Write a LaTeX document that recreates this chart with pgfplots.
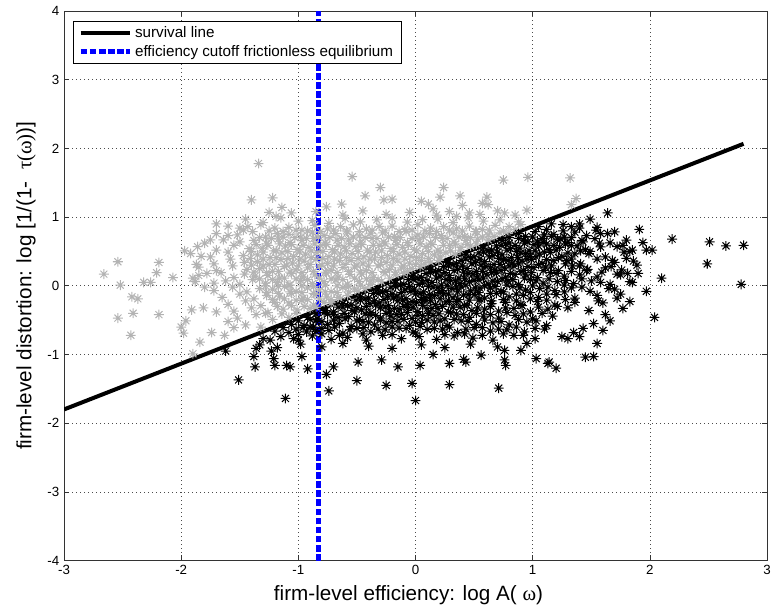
\documentclass[border=0pt]{standalone}
\usepackage{pgfplots}
\pgfplotsset{compat=1.18}
\usepackage{fontspec}
\setmainfont{Liberation Sans}
\newfontfamily\grk{Liberation Serif}
\definecolor{ptgray}{RGB}{179,179,179}
\definecolor{cutblue}{RGB}{0,0,255}

% MATLAB-style '*' marker (plus and cross)
\pgfdeclareplotmark{mstar}{%
  \pgfpathmoveto{\pgfqpoint{-\pgfplotmarksize}{0pt}}\pgfpathlineto{\pgfqpoint{\pgfplotmarksize}{0pt}}%
  \pgfpathmoveto{\pgfqpoint{0pt}{-\pgfplotmarksize}}\pgfpathlineto{\pgfqpoint{0pt}{\pgfplotmarksize}}%
  \pgfpathmoveto{\pgfqpoint{-.707\pgfplotmarksize}{-.707\pgfplotmarksize}}\pgfpathlineto{\pgfqpoint{.707\pgfplotmarksize}{.707\pgfplotmarksize}}%
  \pgfpathmoveto{\pgfqpoint{-.707\pgfplotmarksize}{.707\pgfplotmarksize}}\pgfpathlineto{\pgfqpoint{.707\pgfplotmarksize}{-.707\pgfplotmarksize}}%
  \pgfusepathqstroke}

\begin{document}
\begin{tikzpicture}
\begin{axis}[
    scale only axis,
    width=527pt, height=412pt,
    xmin=-3, xmax=3, ymin=-4, ymax=4,
    xtick={-3,-2,-1,0,1,2,3},
    xticklabels={-3,-2,-1,0,1,2,3},
    ytick={-4,-3,-2,-1,0,1,2,3,4},
    yticklabels={-4,-3,-2,-1,0,1,2,3,4},
    tick pos=both,
    tick align=inside,
    major tick length=4pt,
    tick style={black!80, line width=0.5pt},
    axis line style={black!80, line width=0.5pt},
    grid=major,
    major grid style={black!70, line width=0.5pt, dash pattern=on 0.6pt off 2.4pt},
    tick label style={font=\fontsize{10}{12}\selectfont},
    xlabel={firm-level efficiency: log A( {\grk ω})},
    ylabel={firm-level distortion: log [1/(1-\ \ {\grk τ(ω)})]},
    label style={font=\fontsize{15.5}{18}\selectfont},
    xlabel style={at={(axis description cs:0.49,-0.063)}, anchor=center},
    ylabel style={at={(axis description cs:-0.054,0.5)}, anchor=center},
    legend style={at={(axis description cs:0,1)}, anchor=north west,
        xshift=6.5pt, yshift=-7.5pt, draw=black, line width=0.5pt,
        font=\fontsize{11.4}{13.5}\selectfont, inner xsep=4pt, inner ysep=2pt, row sep=0pt,
        legend cell align=left},
    legend image code/.code={\draw[#1] (0pt,0pt) -- (37pt,0pt);},
]
% firms above the survival line (exit)
\addplot[only marks, mark=mstar, mark size=3.7pt, ptgray, line width=0.75pt, forget plot] coordinates {
(-1.34,1.78)(-1.40,1.25)(-1.22,1.28)(-1.14,1.14)(-1.19,1.01)(-1.06,1.06)(-1.43,0.86)(-0.54,1.59)(-0.30,1.43)(0.24,1.43)
(0.75,1.54)(0.96,1.58)(1.32,1.57)(-0.43,1.31)(-0.27,1.25)(-0.20,1.26)(0.05,1.23)(0.11,1.19)(0.21,1.29)(0.38,1.31)
(0.40,1.17)(0.61,1.29)(0.62,1.18)(0.57,1.20)(-0.63,1.19)(-0.76,1.15)(1.37,1.27)(1.33,1.18)(0.46,1.06)(0.29,1.08)
(0.76,1.06)(0.85,1.03)(0.95,1.10)(0.35,1.01)(0.18,1.03)
(-2.54,0.35)(-2.66,0.17)(-2.52,0.01)(-2.19,0.34)(-2.21,0.19)(-2.07,0.12)(-2.32,0.05)(-2.26,0.05)(-2.42,-0.16)(-2.37,-0.19)
(-2.41,-0.40)(-2.54,-0.47)(-2.19,-0.42)(-2.43,-0.72)(-1.97,0.51)(-1.91,-0.35)(-1.96,-0.51)(-2.00,-0.60)(-1.98,-0.69)(-1.84,-0.82)
(-1.90,-0.99)(-1.74,-0.68)(-1.63,-0.72)(-1.55,-0.61)(-1.81,-0.32)(-1.70,-0.38)(-1.87,0.31)(-1.83,0.43)(-1.70,0.90)(-1.70,0.76)
(-1.75,0.67)(-1.64,0.67)(-1.60,0.73)(-1.50,0.84)(-1.90,0.11)(-1.88,0.06)(-1.85,0.15)(-1.78,0.18)(-1.80,-0.02)
(-1.25,1.07)(-0.85,1.08)(-0.62,1.03)(-0.45,1.09)(-0.25,1.04)(-0.05,1.07)(0.15,1.12)(0.55,1.04)(0.70,1.09)
(-1.45,0.97)(-1.30,0.92)(-1.15,0.99)(-1.00,0.94)(-0.88,0.95)(-0.74,0.91)(-0.60,0.98)(-0.47,0.93)(-0.33,0.96)(-0.20,0.985)
(-0.07,0.925)(0.06,0.965)(0.19,0.97)(0.32,0.92)(0.45,0.99)(0.58,0.94)(0.72,0.96)(0.88,0.93)
(-1.60,0.87)(-1.47,0.81)(-1.32,0.89)(-1.20,0.84)(-1.08,0.85)(-0.97,0.81)(-0.86,0.88)(-0.75,0.83)(-0.64,0.86)(-0.53,0.885)
(-0.42,0.825)(-0.31,0.865)(-0.20,0.87)(-0.09,0.82)(0.02,0.89)(0.13,0.84)(0.24,0.86)(0.35,0.83)(0.46,0.87)(0.57,0.82)
(0.68,0.88)(0.80,0.86)(0.90,0.89)
(-1.52,0.74)(-1.39,0.79)(-1.28,0.71)(-1.18,0.76)(-1.08,0.75)(-0.98,0.71)(-0.88,0.78)(-0.78,0.73)(-0.68,0.76)(-0.58,0.785)
(-0.48,0.725)(-0.38,0.765)(-0.28,0.77)(-0.18,0.72)(-0.08,0.79)(0.02,0.74)(0.12,0.76)(0.22,0.73)(0.32,0.77)(0.42,0.72)
(0.52,0.79)(0.62,0.74)(0.72,0.77)(0.79,0.76)
(-1.80,0.62)(-1.50,0.64)(-1.38,0.66)(-1.27,0.61)(-1.17,0.68)(-1.07,0.63)(-0.97,0.66)(-0.87,0.685)(-0.77,0.625)(-0.67,0.665)
(-0.57,0.67)(-0.47,0.62)(-0.37,0.69)(-0.27,0.64)(-0.17,0.66)(-0.07,0.63)(0.03,0.67)(0.13,0.62)(0.23,0.69)(0.33,0.64)
(0.43,0.66)(0.53,0.68)(0.62,0.67)
(-1.86,0.57)(-1.70,0.52)(-1.55,0.59)(-1.42,0.54)(-1.31,0.55)(-1.21,0.51)(-1.11,0.58)(-1.01,0.53)(-0.91,0.56)(-0.81,0.585)
(-0.71,0.525)(-0.61,0.565)(-0.51,0.57)(-0.41,0.52)(-0.31,0.59)(-0.21,0.54)(-0.11,0.56)(-0.01,0.53)(0.09,0.57)(0.19,0.52)
(0.29,0.59)(0.39,0.56)(0.47,0.58)
(-1.92,0.47)(-1.75,0.42)(-1.60,0.49)(-1.47,0.44)(-1.35,0.45)(-1.24,0.41)(-1.14,0.48)(-1.04,0.43)(-0.94,0.46)(-0.84,0.485)
(-0.74,0.425)(-0.64,0.465)(-0.54,0.47)(-0.44,0.42)(-0.34,0.49)(-0.24,0.44)(-0.14,0.46)(-0.04,0.43)(0.06,0.47)(0.16,0.45)
(0.26,0.48)(0.34,0.46)
(-1.72,0.32)(-1.58,0.39)(-1.46,0.34)(-1.35,0.35)(-1.25,0.31)(-1.15,0.38)(-1.05,0.33)(-0.95,0.36)(-0.85,0.385)(-0.75,0.325)
(-0.65,0.365)(-0.55,0.37)(-0.45,0.32)(-0.35,0.39)(-0.25,0.34)(-0.15,0.36)(-0.05,0.33)(0.05,0.37)(0.13,0.34)(0.20,0.37)
(-1.85,0.27)(-1.70,0.22)(-1.56,0.29)(-1.44,0.24)(-1.33,0.25)(-1.22,0.21)(-1.12,0.28)(-1.02,0.23)(-0.92,0.26)(-0.82,0.285)
(-0.72,0.225)(-0.62,0.265)(-0.52,0.27)(-0.42,0.22)(-0.32,0.29)(-0.22,0.24)(-0.12,0.26)(-0.03,0.25)(0.04,0.28)
(-1.66,0.19)(-1.55,0.12)(-1.46,0.17)(-1.37,0.14)(-1.26,0.15)(-1.16,0.11)(-1.06,0.18)(-0.96,0.13)(-0.86,0.16)(-0.76,0.185)
(-0.66,0.125)(-0.56,0.165)(-0.46,0.17)(-0.36,0.12)(-0.26,0.19)(-0.17,0.16)(-0.10,0.18)
(-1.72,0.04)(-1.62,0.07)(-1.50,0.02)(-1.39,0.09)(-1.28,0.04)(-1.18,0.05)(-1.08,0.01)(-0.98,0.08)(-0.88,0.03)(-0.78,0.06)
(-0.68,0.085)(-0.58,0.025)(-0.48,0.065)(-0.38,0.07)(-0.29,0.06)
(-1.72,-0.07)(-1.56,-0.02)(-1.44,-0.09)(-1.33,-0.04)(-1.22,-0.05)(-1.12,-0.01)(-1.02,-0.08)(-0.92,-0.03)(-0.82,-0.06)(-0.72,-0.085)
(-0.62,-0.025)(-0.52,-0.045)(-0.43,-0.04)
(-1.65,-0.17)(-1.50,-0.12)(-1.38,-0.19)(-1.27,-0.14)(-1.16,-0.15)(-1.06,-0.11)(-0.96,-0.18)(-0.86,-0.13)(-0.76,-0.16)(-0.66,-0.17)
(-0.58,-0.14)
(-1.60,-0.27)(-1.45,-0.22)(-1.32,-0.29)(-1.20,-0.24)(-1.08,-0.25)(-0.97,-0.21)(-0.87,-0.28)(-0.78,-0.24)(-0.72,-0.25)
(-1.55,-0.37)(-1.40,-0.32)(-1.26,-0.39)(-1.13,-0.34)(-1.01,-0.35)(-0.90,-0.33)
(-1.52,-0.47)(-1.36,-0.42)(-1.22,-0.49)(-1.08,-0.46)
(-1.45,-0.57)(-1.32,-0.60)(-1.60,-0.52)
(-1.25,0.80)(-1.13,0.79)(-1.02,0.81)(-0.92,0.80)(-0.81,0.79)(-0.70,0.81)(-0.59,0.80)(-0.48,0.79)(-0.37,0.81)(-0.26,0.80)
(-0.14,0.79)(-0.03,0.81)(0.08,0.80)(0.18,0.79)(0.29,0.81)(0.40,0.80)(0.51,0.79)(0.63,0.81)(0.75,0.80)(0.85,0.82)
(-1.33,0.70)(-1.23,0.69)(-1.13,0.71)(-1.03,0.70)(-0.93,0.69)(-0.83,0.71)(-0.73,0.70)(-0.63,0.69)(-0.53,0.71)(-0.43,0.70)
(-0.33,0.69)(-0.23,0.71)(-0.13,0.70)(-0.03,0.69)(0.07,0.71)(0.17,0.70)(0.27,0.69)(0.37,0.71)(0.47,0.70)(0.57,0.71)(0.67,0.72)
(-1.36,0.60)(-1.26,0.59)(-1.16,0.61)(-1.06,0.60)(-0.96,0.59)(-0.86,0.61)(-0.76,0.60)(-0.66,0.59)(-0.56,0.61)(-0.46,0.60)
(-0.36,0.59)(-0.26,0.61)(-0.16,0.60)(-0.06,0.59)(0.04,0.61)(0.14,0.60)(0.24,0.59)(0.34,0.61)(0.44,0.60)(0.52,0.61)
(-1.40,0.50)(-1.30,0.49)(-1.19,0.51)(-1.09,0.50)(-0.99,0.49)(-0.89,0.51)(-0.79,0.50)(-0.69,0.49)(-0.59,0.51)(-0.49,0.50)
(-0.39,0.49)(-0.29,0.51)(-0.19,0.50)(-0.09,0.49)(0.01,0.51)(0.11,0.50)(0.21,0.49)(0.30,0.51)(0.38,0.52)
(-1.41,0.40)(-1.30,0.39)(-1.19,0.41)(-1.09,0.40)(-0.99,0.39)(-0.89,0.41)(-0.79,0.40)(-0.69,0.39)(-0.59,0.41)(-0.49,0.40)
(-0.39,0.39)(-0.29,0.41)(-0.19,0.40)(-0.09,0.39)(0.01,0.41)(0.11,0.40)(0.21,0.42)
(-1.40,0.30)(-1.30,0.29)(-1.20,0.31)(-1.10,0.30)(-1.00,0.29)(-0.90,0.31)(-0.80,0.30)(-0.70,0.29)(-0.60,0.31)(-0.50,0.30)
(-0.40,0.29)(-0.30,0.31)(-0.20,0.30)(-0.10,0.29)(0.00,0.31)(0.08,0.32)
(-1.38,0.20)(-1.27,0.19)(-1.17,0.21)(-1.07,0.20)(-0.97,0.19)(-0.87,0.21)(-0.77,0.20)(-0.67,0.19)(-0.57,0.21)(-0.47,0.20)
(-0.37,0.19)(-0.27,0.21)(-0.17,0.20)(-0.07,0.21)
(-1.33,0.10)(-1.22,0.09)(-1.12,0.11)(-1.02,0.10)(-0.92,0.09)(-0.82,0.11)(-0.72,0.10)(-0.62,0.09)(-0.52,0.11)(-0.42,0.10)
(-0.32,0.09)(-0.22,0.11)
(-1.28,0.00)(-1.17,-0.01)(-1.07,0.01)(-0.97,0.00)(-0.87,-0.01)(-0.77,0.01)(-0.67,0.00)(-0.57,-0.01)(-0.47,0.01)(-0.38,0.02)
(-1.27,-0.10)(-1.17,-0.11)(-1.07,-0.09)(-0.97,-0.10)(-0.87,-0.11)(-0.77,-0.09)(-0.67,-0.10)(-0.57,-0.09)(-0.49,-0.08)
(-1.22,-0.20)(-1.12,-0.19)(-1.02,-0.21)(-0.92,-0.20)(-0.82,-0.19)(-0.72,-0.20)(-0.64,-0.19)
(-1.18,-0.30)(-1.06,-0.29)(-0.95,-0.30)(-0.85,-0.31)
(-1.28,-0.40)(-1.14,-0.41)(-1.02,-0.40)
};
% firms below the survival line (survivors)
\addplot[only marks, mark=mstar, mark size=3.7pt, black, line width=0.75pt, forget plot] coordinates {
(1.05,0.86)(1.12,0.82)(1.26,0.89)(1.40,0.84)(1.55,0.85)
(0.88,0.76)(0.94,0.72)(1.02,0.79)(1.10,0.74)(1.18,0.75)(1.27,0.71)(1.36,0.78)(1.46,0.73)(1.58,0.76)(1.70,0.785)
(0.74,0.66)(0.80,0.62)(0.88,0.69)(0.96,0.64)(1.04,0.65)(1.12,0.61)(1.21,0.68)(1.30,0.63)(1.42,0.66)(1.53,0.685)
(1.66,0.625)(1.80,0.665)
(0.58,0.55)(0.65,0.52)(0.73,0.59)(0.81,0.54)(0.89,0.55)(0.97,0.51)(1.05,0.58)(1.14,0.53)(1.23,0.56)(1.33,0.585)
(1.45,0.525)(1.58,0.565)(1.72,0.57)(1.85,0.52)
(0.43,0.45)(0.50,0.42)(0.58,0.49)(0.66,0.44)(0.74,0.45)(0.82,0.41)(0.90,0.48)(0.98,0.43)(1.06,0.46)(1.15,0.485)
(1.25,0.425)(1.36,0.465)(1.48,0.47)(1.62,0.42)(1.78,0.49)
(0.28,0.34)(0.35,0.32)(0.43,0.39)(0.51,0.34)(0.59,0.35)(0.67,0.31)(0.75,0.38)(0.83,0.33)(0.91,0.36)(0.99,0.385)
(1.08,0.325)(1.18,0.365)(1.29,0.37)(1.41,0.32)(1.55,0.39)(1.70,0.34)(1.86,0.36)
(0.13,0.24)(0.20,0.22)(0.28,0.29)(0.36,0.24)(0.44,0.25)(0.52,0.21)(0.60,0.28)(0.68,0.23)(0.76,0.26)(0.84,0.285)
(0.92,0.225)(1.01,0.265)(1.11,0.27)(1.22,0.22)(1.34,0.29)(1.47,0.24)(1.62,0.26)(1.76,0.23)
(-0.02,0.14)(0.05,0.12)(0.13,0.19)(0.21,0.14)(0.29,0.15)(0.37,0.11)(0.45,0.18)(0.53,0.13)(0.61,0.16)(0.69,0.185)
(0.77,0.125)(0.85,0.165)(0.94,0.17)(1.04,0.12)(1.15,0.19)(1.27,0.14)(1.40,0.16)(1.55,0.13)(1.72,0.17)
(-0.17,0.04)(-0.10,0.02)(-0.02,0.09)(0.06,0.04)(0.14,0.05)(0.22,0.01)(0.30,0.08)(0.38,0.03)(0.46,0.06)(0.54,0.085)
(0.62,0.025)(0.70,0.065)(0.79,0.07)(0.88,0.02)(0.98,0.09)(1.09,0.04)(1.21,0.06)(1.35,0.03)(1.50,0.07)(1.66,0.02)(1.83,0.06)
(-0.32,-0.06)(-0.25,-0.08)(-0.17,-0.01)(-0.09,-0.06)(-0.01,-0.05)(0.07,-0.09)(0.15,-0.02)(0.23,-0.07)(0.31,-0.04)(0.39,-0.015)
(0.47,-0.075)(0.55,-0.035)(0.64,-0.03)(0.73,-0.08)(0.83,-0.01)(0.94,-0.06)(1.06,-0.04)(1.19,-0.07)(1.33,-0.03)(1.49,-0.08)(1.65,-0.04)
(-0.47,-0.16)(-0.40,-0.18)(-0.32,-0.11)(-0.24,-0.16)(-0.16,-0.15)(-0.08,-0.19)(0.00,-0.12)(0.08,-0.17)(0.16,-0.14)(0.24,-0.115)
(0.32,-0.175)(0.41,-0.135)(0.50,-0.13)(0.59,-0.18)(0.69,-0.11)(0.80,-0.16)(0.92,-0.14)(1.05,-0.17)(1.20,-0.13)(1.36,-0.18)
(1.55,-0.14)(1.75,-0.12)
(-0.62,-0.26)(-0.55,-0.28)(-0.47,-0.21)(-0.39,-0.26)(-0.31,-0.25)(-0.23,-0.29)(-0.15,-0.22)(-0.07,-0.27)(0.01,-0.24)(0.09,-0.215)
(0.17,-0.275)(0.26,-0.235)(0.35,-0.23)(0.44,-0.28)(0.54,-0.21)(0.65,-0.26)(0.77,-0.24)(0.90,-0.27)(1.04,-0.23)(1.19,-0.28)
(1.36,-0.24)(1.56,-0.22)
(-0.77,-0.36)(-0.70,-0.38)(-0.62,-0.31)(-0.54,-0.36)(-0.46,-0.35)(-0.38,-0.39)(-0.30,-0.32)(-0.22,-0.37)(-0.14,-0.34)(-0.06,-0.315)
(0.02,-0.375)(0.10,-0.335)(0.19,-0.33)(0.28,-0.38)(0.38,-0.31)(0.48,-0.36)(0.59,-0.34)(0.71,-0.37)(0.84,-0.33)(0.98,-0.38)
(1.13,-0.34)(1.30,-0.32)(1.48,-0.36)
(-0.92,-0.46)(-0.84,-0.48)(-0.75,-0.41)(-0.66,-0.46)(-0.57,-0.45)(-0.48,-0.49)(-0.39,-0.42)(-0.30,-0.47)(-0.21,-0.44)(-0.12,-0.415)
(-0.03,-0.475)(0.06,-0.435)(0.15,-0.43)(0.25,-0.48)(0.35,-0.41)(0.46,-0.46)(0.58,-0.44)(0.71,-0.47)(0.85,-0.43)(1.00,-0.48)(1.17,-0.44)
(-1.06,-0.56)(-0.95,-0.58)(-0.85,-0.51)(-0.75,-0.56)(-0.65,-0.55)(-0.55,-0.59)(-0.45,-0.52)(-0.35,-0.57)(-0.25,-0.54)(-0.15,-0.515)
(-0.05,-0.575)(0.05,-0.535)(0.16,-0.53)(0.27,-0.58)(0.39,-0.51)(0.52,-0.56)(0.66,-0.54)(0.80,-0.57)(0.95,-0.53)(1.12,-0.58)
(-1.20,-0.66)(-1.08,-0.68)(-0.96,-0.61)(-0.85,-0.66)(-0.74,-0.65)(-0.62,-0.69)(-0.50,-0.62)(-0.38,-0.67)(-0.26,-0.64)(-0.14,-0.615)
(-0.02,-0.675)(0.10,-0.635)(0.23,-0.63)(0.36,-0.68)(0.50,-0.61)(0.64,-0.66)(0.78,-0.64)(0.93,-0.67)(1.10,-0.63)
(-1.30,-0.77)(-1.15,-0.74)(-1.00,-0.79)(-0.88,-0.73)(-0.72,-0.78)(-0.58,-0.75)(-0.42,-0.79)(-0.28,-0.72)(-0.12,-0.77)(0.03,-0.74)
(0.18,-0.78)(0.33,-0.73)(0.49,-0.76)(0.66,-0.79)(0.84,-0.72)(1.02,-0.77)(1.25,-0.74)(1.40,-0.74)
(-1.18,-0.90)(-0.98,-0.85)(-0.80,-0.89)(-0.62,-0.84)(-0.40,-0.88)(-0.20,-0.91)(0.05,-0.86)(0.25,-0.90)(0.47,-0.85)(0.70,-0.89)
(0.95,-0.84)
(-1.51,-1.37)(-1.11,-1.64)(-1.38,-1.03)(-1.37,-1.18)(-1.62,-0.95)(-1.23,-0.95)(-1.10,-1.16)(-1.07,-1.18)(-0.92,-1.21)(-1.20,-1.16)
(-1.33,-0.86)(-1.24,-0.79)(-1.04,-0.77)(-0.93,-0.67)(-0.87,-0.60)
(-0.74,-1.53)(-0.50,-1.38)(-0.25,-1.45)(-0.03,-1.42)(0.00,-1.67)(0.29,-1.44)(0.71,-1.49)(-0.15,-1.18)(0.29,-1.13)(0.77,-1.16)
(1.03,-1.06)(1.13,-1.13)(1.20,-1.20)(0.15,-1.00)(0.43,-1.11)(0.56,-1.01)(0.04,-1.16)
(-0.76,-1.29)(-0.70,-1.18)(-0.49,-1.11)(-0.29,-1.08)(-1.36,-0.91)(-1.21,-1.06)(-0.97,-1.03)
(1.14,-1.11)(1.45,-1.04)(1.52,-1.03)(1.55,-0.84)(1.30,-0.77)(1.66,-0.51)(1.83,-0.23)(1.77,-0.33)
(0.76,-1.08)(0.90,-0.94)(0.76,-0.94)(0.41,-1.07)
(2.19,0.68)(2.51,0.64)(2.65,0.58)(2.80,0.59)(2.49,0.32)(2.78,0.02)(2.10,0.11)(2.04,-0.46)(1.97,-0.08)(1.91,0.82)
(1.94,0.63)(1.97,0.52)(2.02,0.52)(1.89,0.30)(1.81,0.18)(1.75,0.16)(1.83,0.50)(1.77,0.59)
(1.16,0.90)(1.49,0.97)(1.64,1.06)(1.64,0.76)(1.26,0.80)(1.33,0.86)(1.40,0.90)(1.54,0.81)(1.43,0.64)(1.57,0.62)
(1.68,0.37)(1.49,0.50)(1.59,0.20)(1.46,0.22)
(1.60,-0.25)(1.70,-0.05)(1.85,0.05)(1.62,-0.42)(1.72,-0.18)(1.58,0.05)(1.67,0.28)(1.80,0.40)(1.90,0.18)(1.52,-0.55)
(1.43,-0.62)(1.35,-0.68)(1.60,-0.65)
(0.80,0.70)(0.92,0.67)(1.00,0.71)(1.08,0.69)(1.16,0.72)(1.24,0.68)(1.33,0.70)
(0.69,0.58)(0.77,0.61)(0.85,0.59)(0.93,0.62)(1.01,0.60)(1.09,0.63)(1.18,0.59)(1.28,0.61)(1.38,0.58)
(0.54,0.48)(0.62,0.51)(0.70,0.49)(0.78,0.52)(0.86,0.50)(0.94,0.47)(1.02,0.51)(1.10,0.49)(1.20,0.52)(1.30,0.48)(1.41,0.51)
(0.39,0.37)(0.47,0.41)(0.55,0.39)(0.63,0.42)(0.71,0.40)(0.79,0.37)(0.87,0.41)(0.95,0.39)(1.03,0.42)(1.12,0.38)(1.22,0.41)(1.33,0.39)
(0.24,0.28)(0.32,0.31)(0.40,0.29)(0.48,0.32)(0.56,0.30)(0.64,0.27)(0.72,0.31)(0.80,0.29)(0.88,0.32)(0.96,0.28)(1.05,0.31)(1.16,0.29)(1.28,0.32)(1.40,0.29)
(0.09,0.18)(0.17,0.21)(0.25,0.19)(0.33,0.22)(0.41,0.20)(0.49,0.17)(0.57,0.21)(0.65,0.19)(0.73,0.22)(0.81,0.18)(0.90,0.21)(0.99,0.19)(1.09,0.22)(1.20,0.18)(1.33,0.21)
(-0.06,0.09)(0.02,0.11)(0.10,0.08)(0.18,0.11)(0.26,0.09)(0.34,0.07)(0.42,0.10)(0.50,0.08)(0.58,0.11)(0.66,0.07)(0.74,0.10)(0.83,0.09)(0.93,0.11)(1.03,0.07)(1.14,0.10)(1.28,0.08)(1.42,0.10)
(-0.21,-0.02)(-0.13,0.01)(-0.05,-0.01)(0.03,0.02)(0.11,-0.01)(0.19,-0.03)(0.27,0.00)(0.35,-0.02)(0.43,0.01)(0.51,-0.03)(0.59,0.00)(0.68,-0.01)(0.78,0.01)(0.89,-0.03)(1.00,0.00)(1.13,-0.02)(1.27,0.01)(1.42,-0.02)
(-0.36,-0.11)(-0.28,-0.09)(-0.20,-0.12)(-0.12,-0.10)(-0.04,-0.08)(0.04,-0.11)(0.12,-0.13)(0.20,-0.10)(0.28,-0.12)(0.36,-0.09)(0.45,-0.13)(0.54,-0.10)(0.64,-0.11)(0.75,-0.09)(0.86,-0.12)(0.98,-0.10)(1.12,-0.12)(1.27,-0.09)
(-0.51,-0.21)(-0.43,-0.19)(-0.35,-0.22)(-0.27,-0.20)(-0.19,-0.18)(-0.11,-0.21)(-0.03,-0.23)(0.05,-0.20)(0.13,-0.22)(0.21,-0.19)(0.29,-0.23)(0.37,-0.20)(0.46,-0.21)(0.55,-0.19)(0.65,-0.22)(0.75,-0.20)(0.86,-0.22)(0.98,-0.19)(1.12,-0.21)(1.28,-0.20)
(-0.66,-0.31)(-0.58,-0.29)(-0.50,-0.32)(-0.42,-0.30)(-0.34,-0.28)(-0.26,-0.31)(-0.18,-0.33)(-0.10,-0.30)(-0.02,-0.32)(0.06,-0.29)(0.14,-0.33)(0.23,-0.30)(0.32,-0.31)(0.42,-0.29)(0.53,-0.32)(0.64,-0.30)(0.77,-0.32)(0.91,-0.29)(1.05,-0.31)(1.21,-0.30)
(-0.85,-0.41)(-0.78,-0.39)(-0.70,-0.42)(-0.61,-0.40)(-0.52,-0.38)(-0.43,-0.41)(-0.34,-0.43)(-0.25,-0.40)(-0.16,-0.42)(-0.07,-0.39)(0.02,-0.43)(0.11,-0.40)(0.20,-0.41)(0.30,-0.39)(0.41,-0.42)(0.52,-0.40)(0.64,-0.42)(0.78,-0.39)(0.92,-0.41)(1.08,-0.40)
(-1.00,-0.51)(-0.90,-0.49)(-0.80,-0.52)(-0.70,-0.50)(-0.60,-0.48)(-0.50,-0.51)(-0.40,-0.53)(-0.30,-0.50)(-0.20,-0.52)(-0.10,-0.49)(0.00,-0.53)(0.10,-0.50)(0.21,-0.51)(0.33,-0.49)(0.45,-0.52)(0.59,-0.50)(0.73,-0.52)(0.88,-0.49)(1.03,-0.51)
(-1.13,-0.61)(-1.02,-0.63)(-0.90,-0.60)(-0.80,-0.62)(-0.69,-0.60)(-0.56,-0.64)(-0.44,-0.61)(-0.32,-0.63)(-0.20,-0.60)(-0.08,-0.62)(0.04,-0.59)(0.16,-0.62)(0.29,-0.60)(0.43,-0.63)(0.57,-0.61)(0.71,-0.63)(0.86,-0.60)(1.02,-0.62)
(-1.00,-0.71)(-0.80,-0.70)(-0.65,-0.72)(-0.45,-0.70)(-0.20,-0.71)(0.00,-0.69)(0.25,-0.71)(0.42,-0.70)(0.57,-0.72)(0.75,-0.70)(0.92,-0.72)
};
% survival line
\addplot[black, line width=3pt] coordinates {(-3,-1.8) (2.8,2.067)};
\addlegendentry{survival line}
% efficiency cutoff in the frictionless equilibrium
\addplot[cutblue, line width=3.5pt, dash pattern=on 5pt off 1.8pt] coordinates {(-0.83,-4) (-0.83,4)};
\addlegendentry{efficiency cutoff frictionless equilibrium\hspace{9pt}}
\end{axis}
\pgfresetboundingbox
\path (-48pt,-36pt) rectangle (530pt,420.25pt);
\end{tikzpicture}
\end{document}
